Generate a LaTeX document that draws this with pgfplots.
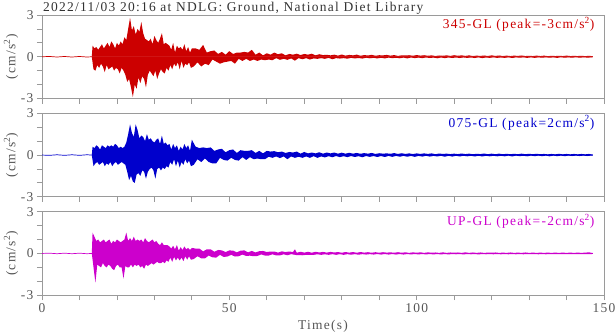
\documentclass[border=0pt]{standalone}
\usepackage{fontspec}
\setmainfont{Liberation Serif}[LetterSpace=9.5]
\usepackage{pgfplots}
\pgfplotsset{compat=1.18}
\definecolor{framec}{HTML}{9A9A9A}
\definecolor{tickc}{HTML}{555555}
\definecolor{titlec}{HTML}{333333}
\definecolor{c345}{HTML}{CC0000}
\definecolor{c075}{HTML}{0000CC}
\definecolor{cup}{HTML}{CC00CC}

\pgfplotsset{
  seis/.style={
    scale only axis, width=562bp, height=83.5bp, anchor=north west,
    xmin=0, xmax=150, ymin=-3, ymax=3,
    axis line style={framec, line width=0.8bp},
    tick style={framec, line width=0.8bp},
    tick align=outside, major tick length=5bp, tick pos=left,
    xtick={0,10,...,150}, xticklabels={},
    ytick={-3,-2,-1,0,1,2,3}, yticklabels={-3,,,0,,,3},
    ticklabel style={text=tickc, font=\fontsize{13.5}{15}\selectfont},
    ylabel={(cm/s\textsuperscript{2})},
    every axis y label/.style={at={(axis description cs:0,0.5)}, xshift=-31bp,
      rotate=90, anchor=center, text=tickc, font=\fontsize{13.5}{15}\selectfont},
  },
  env/.style={draw=#1, line width=0.4bp, line join=bevel, mark=none},
  area/.style={fill=#1, draw=none, mark=none},
  pre/.style={draw=#1, line width=0.7bp, mark=none},
}
\tikzset{lab/.style={anchor=base east, font=\fontsize{13.5}{15}\selectfont}}

% upper and lower envelopes of each trace
\pgfplotstableread{
t a
13.3 0.03
13.5 0.8
14 0.6
14.5 0.7
15 0.5
15.5 0.7
16 0.9
16.5 0.6
17 0.8
17.5 1.0
18 0.7
18.5 1.1
19 0.9
19.5 0.6
20 1.0
20.5 0.8
21 1.1
21.5 0.9
22 1.4
22.5 1.2
23 2.0
23.5 2.8
24 1.9
24.5 2.2
25 1.6
25.5 2.0
26 1.8
26.5 2.5
27 1.7
27.5 1.3
28 1.2
28.5 1.1
29 1.3
29.5 0.9
30 1.5
30.5 1.2
31 1.0
31.5 1.3
32 1.7
32.5 0.9
33 1.0
33.5 0.9
34 0.8
34.5 0.5
35 1.0
35.5 0.3
36 0.8
36.5 0.6
37 0.7
37.5 0.5
38 0.9
38.5 0.4
39 0.7
39.5 0.3
40 0.6
41 0.6
42 0.5
43 0.85
44 0.3
45 0.4
46 0.45
47 0.2
48 0.35
49 0.15
50 0.4
51 0.2
52 0.3
53 0.3
54 0.35
55 0.3
56 0.5
57 0.15
58 0.3
59 0.1
60 0.25
61 0.15
62 0.3
63 0.18
64 0.25
65 0.1
66 0.2
67 0.15
68 0.22
69 0.12
70 0.2
71 0.15
72 0.22
73 0.1
74 0.18
75 0.12
76 0.14
77 0.1
78 0.15
79 0.08
80 0.16
81 0.08
82 0.13
83 0.1
84 0.15
85 0.07
86 0.12
87 0.09
88 0.14
89 0.07
90 0.11
91 0.1
92 0.13
93 0.08
94 0.12
95 0.06
96 0.1
97 0.09
98 0.11
99 0.07
100 0.12
101 0.08
102 0.11
103 0.07
104 0.1
105 0.05
106 0.09
107 0.07
108 0.1
109 0.06
110 0.11
111 0.07
112 0.1
113 0.06
114 0.1
115 0.05
116 0.08
117 0.06
118 0.09
119 0.05
120 0.1
121 0.06
122 0.09
123 0.05
124 0.08
125 0.05
126 0.08
127 0.06
128 0.09
129 0.05
130 0.07
131 0.05
132 0.08
133 0.05
134 0.08
135 0.04
136 0.07
137 0.05
138 0.07
139 0.05
140 0.08
141 0.05
142 0.06
143 0.05
144 0.07
145 0.04
146 0.07
147 0.03
}\upA

\begin{document}
\begin{tikzpicture}
\useasboundingbox (0,0) rectangle (616bp,334bp);
\node[anchor=base west, text=titlec, font=\fontsize{13.5}{15}\selectfont, inner sep=0pt] at (43bp,322bp) {2022/11/03 20:16 at NDLG: Ground, National Diet Library};

% ---------------- 345-GL ----------------
\begin{axis}[seis, at={(42bp,319bp)}]
\addplot[area=c345] table[x=t, y=a] {\upA} \closedcycle;
\addplot[area=c345] coordinates {
(13.3,-0.03) (13.75,-0.9) (14.25,-1.0) (14.75,-0.6) (15.25,-0.8) (15.75,-0.5) (16.25,-0.7) (16.75,-1.1) (17.25,-0.6) (17.75,-0.9) (18.25,-0.8)
(18.75,-0.7) (19.25,-1.0) (19.75,-0.8) (20.25,-0.9) (20.75,-1.2) (21.25,-0.8) (21.75,-1.0) (22.25,-1.3) (22.75,-1.8) (23.25,-1.6) (23.75,-2.2)
(24.25,-2.9) (24.75,-2.0) (25.25,-2.3) (25.75,-1.5) (26.25,-1.9) (26.75,-1.4) (27.25,-1.6) (27.75,-2.2) (28.25,-1.3) (28.75,-1.0) (29.25,-1.2)
(29.75,-1.4) (30.25,-1.0) (30.75,-1.6) (31.25,-1.2) (31.75,-0.9) (32.25,-1.1) (32.75,-1.2) (33.25,-0.8) (33.75,-1.0) (34.25,-0.6) (34.75,-0.9)
(35.25,-0.5) (35.75,-0.7) (36.25,-0.4) (36.75,-0.9) (37.25,-0.3) (37.75,-0.8) (38.25,-0.5) (38.75,-0.6) (39.25,-0.4) (39.75,-0.8)
(40.5,-0.7) (41.5,-0.4) (42.5,-0.7) (43.5,-0.5) (44.5,-0.6) (45.5,-0.2) (46.5,-0.35) (47.5,-0.5) (48.5,-0.4) (49.5,-0.35) (50.5,-0.3)
(51.5,-0.5) (52.5,-0.15) (53.5,-0.3) (54.5,-0.15) (55.5,-0.3) (56.5,-0.2) (57.5,-0.3) (58.5,-0.2) (59.5,-0.25) (60.5,-0.2) (61.5,-0.25)
(62.5,-0.1) (63.5,-0.22) (64.5,-0.15) (65.5,-0.22) (66.5,-0.12) (67.5,-0.28) (68.5,-0.1) (69.5,-0.18) (70.5,-0.1) (71.5,-0.2) (72.5,-0.12)
(73.5,-0.15) (74.5,-0.1) (75.5,-0.15) (76.5,-0.08) (77.5,-0.18) (78.5,-0.1) (79.5,-0.13) (80.5,-0.1) (81.5,-0.14) (82.5,-0.08) (83.5,-0.12)
(84.5,-0.09) (85.5,-0.13) (86.5,-0.07) (87.5,-0.11) (88.5,-0.08) (89.5,-0.12) (90.5,-0.07) (91.5,-0.12) (92.5,-0.06) (93.5,-0.1) (94.5,-0.07)
(95.5,-0.11) (96.5,-0.06) (97.5,-0.12) (98.5,-0.05) (99.5,-0.1) (100.5,-0.06) (101.5,-0.1) (102.5,-0.05) (103.5,-0.09) (104.5,-0.06)
(105.5,-0.11) (106.5,-0.05) (107.5,-0.1) (108.5,-0.05) (109.5,-0.09) (110.5,-0.05) (111.5,-0.09) (112.5,-0.05) (113.5,-0.08) (114.5,-0.05)
(115.5,-0.09) (116.5,-0.04) (117.5,-0.1) (118.5,-0.05) (119.5,-0.08) (120.5,-0.04) (121.5,-0.08) (122.5,-0.05) (123.5,-0.08) (124.5,-0.04)
(125.5,-0.09) (126.5,-0.04) (127.5,-0.07) (128.5,-0.04) (129.5,-0.08) (130.5,-0.04) (131.5,-0.08) (132.5,-0.04) (133.5,-0.07) (134.5,-0.04)
(135.5,-0.07) (136.5,-0.04) (137.5,-0.08) (138.5,-0.03) (139.5,-0.07) (140.5,-0.04) (141.5,-0.07) (142.5,-0.03) (143.5,-0.07) (144.5,-0.04)
(145.5,-0.06) (146.5,-0.05) (147,-0.03)
} \closedcycle;
\addplot[pre=c345] coordinates {(0,0) (2,0.02) (4,-0.02) (6,0.02) (8,-0.02) (10,0.02) (12,-0.02) (13.3,0) (147,0)};
\node[lab, text=c345] at (rel axis cs:0.989,0.835) {345-GL (peak=-3cm/s\textsuperscript{2})};
\end{axis}

% ---------------- 075-GL ----------------
\begin{axis}[seis, at={(42bp,220.7bp)}]
\addplot[area=c075] coordinates {
(13.3,0.03) (13.5,0.6) (14,0.5) (14.5,0.7) (15,0.6) (15.5,0.4) (16,0.7) (16.5,0.6) (17,0.5) (17.5,0.7) (18,0.6) (18.5,0.7) (19,0.6) (19.5,0.8)
(20,0.7) (20.5,0.5) (21,0.6) (21.5,0.5) (22,0.6) (22.5,0.9) (23,1.5) (23.5,2.2) (24,1.6) (24.5,1.3) (25,2.2) (25.5,1.8) (26,1.2) (26.5,1.4)
(27,1.3) (27.5,1.0) (28,1.5) (28.5,1.1) (29,1.2) (29.5,1.0) (30,0.9) (30.5,1.1) (31,1.2) (31.5,0.8) (32,1.4) (32.5,0.8) (33,0.9) (33.5,0.7)
(34,0.8) (34.5,0.4) (35,0.8) (35.5,0.5) (36,0.7) (36.5,0.3) (37,0.6) (37.5,0.4) (38,0.8) (38.5,0.5) (39,0.7) (39.5,0.3) (40,1.1)
(41,0.6) (42,0.5) (43,0.55) (44,0.5) (45,0.55) (46,0.3) (47,0.4) (48,0.45) (49,0.2) (50,0.35) (51,0.4) (52,0.15) (53,0.35) (54,0.3)
(55,0.3) (56,0.35) (57,0.15) (58,0.3) (59,0.12) (60,0.3) (61,0.25) (62,0.28) (63,0.2) (64,0.25) (65,0.15) (66,0.22) (67,0.18) (68,0.25)
(69,0.1) (70,0.22) (71,0.12) (72,0.18) (73,0.12) (74,0.2) (75,0.1) (76,0.18) (77,0.12) (78,0.18) (79,0.1) (80,0.17) (81,0.1) (82,0.16)
(83,0.1) (84,0.15) (85,0.09) (86,0.14) (87,0.1) (88,0.15) (89,0.08) (90,0.13) (91,0.1) (92,0.12) (93,0.09) (94,0.14) (95,0.08) (96,0.13)
(97,0.08) (98,0.12) (99,0.07) (100,0.12) (101,0.08) (102,0.12) (103,0.08) (104,0.12) (105,0.06) (106,0.11) (107,0.08) (108,0.1) (109,0.07)
(110,0.1) (111,0.07) (112,0.11) (113,0.07) (114,0.1) (115,0.06) (116,0.09) (117,0.07) (118,0.11) (119,0.06) (120,0.1) (121,0.06) (122,0.1)
(123,0.06) (124,0.09) (125,0.06) (126,0.09) (127,0.06) (128,0.1) (129,0.06) (130,0.09) (131,0.06) (132,0.09) (133,0.06) (134,0.08)
(135,0.05) (136,0.08) (137,0.05) (138,0.09) (139,0.05) (140,0.08) (141,0.05) (142,0.08) (143,0.05) (144,0.08) (145,0.05) (146,0.08) (147,0.03)
} \closedcycle;
\addplot[area=c075] coordinates {
(13.3,-0.03) (13.75,-0.8) (14.25,-0.6) (14.75,-0.5) (15.25,-0.7) (15.75,-0.6) (16.25,-0.5) (16.75,-0.8) (17.25,-0.6) (17.75,-0.7) (18.25,-0.5)
(18.75,-0.8) (19.25,-0.6) (19.75,-0.5) (20.25,-0.7) (20.75,-0.6) (21.25,-0.5) (21.75,-0.6) (22.25,-0.7) (22.75,-1.2) (23.25,-1.8) (23.75,-1.5)
(24.25,-1.9) (24.75,-2.0) (25.25,-1.4) (25.75,-1.3) (26.25,-1.5) (26.75,-1.1) (27.25,-1.2) (27.75,-1.7) (28.25,-1.2) (28.75,-1.0) (29.25,-0.9)
(29.75,-1.1) (30.25,-1.7) (30.75,-1.0) (31.25,-0.9) (31.75,-1.1) (32.25,-0.9) (32.75,-1.0) (33.25,-0.8) (33.75,-0.9) (34.25,-0.5) (34.75,-0.7)
(35.25,-0.3) (35.75,-0.8) (36.25,-0.4) (36.75,-0.9) (37.25,-0.5) (37.75,-0.7) (38.25,-0.3) (38.75,-0.6) (39.25,-0.4) (39.75,-0.8)
(40.5,-0.7) (41.5,-0.3) (42.5,-0.5) (43.5,-0.25) (44.5,-0.5) (45.5,-0.6) (46.5,-0.6) (47.5,-0.2) (48.5,-0.35) (49.5,-0.4) (50.5,-0.2)
(51.5,-0.35) (52.5,-0.4) (53.5,-0.15) (54.5,-0.35) (55.5,-0.15) (56.5,-0.3) (57.5,-0.25) (58.5,-0.3) (59.5,-0.3) (60.5,-0.12) (61.5,-0.2)
(62.5,-0.1) (63.5,-0.22) (64.5,-0.1) (65.5,-0.3) (66.5,-0.1) (67.5,-0.2) (68.5,-0.12) (69.5,-0.2) (70.5,-0.1) (71.5,-0.2) (72.5,-0.08)
(73.5,-0.2) (74.5,-0.1) (75.5,-0.17) (76.5,-0.08) (77.5,-0.16) (78.5,-0.07) (79.5,-0.15) (80.5,-0.08) (81.5,-0.15) (82.5,-0.07) (83.5,-0.14)
(84.5,-0.08) (85.5,-0.16) (86.5,-0.07) (87.5,-0.13) (88.5,-0.07) (89.5,-0.14) (90.5,-0.07) (91.5,-0.14) (92.5,-0.06) (93.5,-0.13) (94.5,-0.06)
(95.5,-0.12) (96.5,-0.06) (97.5,-0.12) (98.5,-0.06) (99.5,-0.13) (100.5,-0.06) (101.5,-0.11) (102.5,-0.05) (103.5,-0.11) (104.5,-0.06)
(105.5,-0.1) (106.5,-0.05) (107.5,-0.12) (108.5,-0.05) (109.5,-0.11) (110.5,-0.05) (111.5,-0.1) (112.5,-0.05) (113.5,-0.09) (114.5,-0.05)
(115.5,-0.1) (116.5,-0.05) (117.5,-0.1) (118.5,-0.05) (119.5,-0.09) (120.5,-0.05) (121.5,-0.09) (122.5,-0.05) (123.5,-0.09) (124.5,-0.04)
(125.5,-0.1) (126.5,-0.04) (127.5,-0.08) (128.5,-0.05) (129.5,-0.09) (130.5,-0.04) (131.5,-0.08) (132.5,-0.04) (133.5,-0.08) (134.5,-0.04)
(135.5,-0.09) (136.5,-0.04) (137.5,-0.08) (138.5,-0.04) (139.5,-0.08) (140.5,-0.04) (141.5,-0.07) (142.5,-0.04) (143.5,-0.07) (144.5,-0.04)
(145.5,-0.07) (146.5,-0.04) (147,-0.03)
} \closedcycle;
\addplot[pre=c075] coordinates {(0,0) (2,-0.02) (4,0.02) (6,-0.02) (8,0.02) (10,-0.02) (12,0.02) (13.3,0) (147,0)};
\node[lab, text=c075] at (rel axis cs:0.989,0.835) {075-GL (peak=2cm/s\textsuperscript{2})};
\end{axis}

% ---------------- UP-GL ----------------
\begin{axis}[seis, at={(42bp,122.3bp)},
  xticklabels={0,,,,,50,,,,,100,,,,,150},
  xlabel={Time(s)},
  every axis x label/.style={at={(axis description cs:0.5,0)}, anchor=base,
    yshift=-34bp, text=tickc, font=\fontsize{13.5}{15}\selectfont}]
\addplot[area=cup] coordinates {
(13.3,0.03) (13.5,1.5) (14,1.2) (14.5,0.9) (15,1.0) (15.5,0.8) (16,0.9) (16.5,1.0) (17,0.8) (17.5,0.9) (18,1.0) (18.5,0.7) (19,0.9) (19.5,0.8)
(20,1.0) (20.5,0.9) (21,0.8) (21.5,0.9) (22,1.0) (22.5,1.5) (23,0.9) (23.5,1.1) (24,0.9) (24.5,1.2) (25,0.9) (25.5,1.0) (26,0.9) (26.5,1.0)
(27,0.8) (27.5,1.1) (28,0.9) (28.5,0.8) (29,0.9) (29.5,1.0) (30,0.8) (30.5,0.9) (31,0.7) (31.5,0.6) (32,0.8) (32.5,0.6) (33,0.6) (33.5,0.6)
(34,0.5) (34.5,0.35) (35,0.55) (35.5,0.3) (36,0.6) (36.5,0.2) (37,0.45) (37.5,0.25) (38,0.5) (38.5,0.3) (39,0.4) (39.5,0.25) (40,0.4)
(41,0.35) (42,0.35) (43,0.15) (44,0.3) (45,0.3) (46,0.12) (47,0.25) (48,0.22) (49,0.1) (50,0.22) (51,0.2) (52,0.08) (53,0.2) (54,0.22)
(55,0.08) (56,0.18) (57,0.07) (58,0.16) (59,0.18) (60,0.1) (61,0.14) (62,0.14) (63,0.06) (64,0.15) (65,0.1) (66,0.14) (67,0.1) (67.5,0.3)
(68,0.05) (69,0.12) (70,0.06) (71,0.12) (72,0.05) (73,0.12) (74,0.07) (75,0.11) (76,0.06) (77,0.11) (78,0.07) (79,0.1) (80,0.05) (81,0.1)
(82,0.06) (83,0.1) (84,0.05) (85,0.1) (86,0.06) (87,0.09) (88,0.05) (89,0.09) (90,0.05) (91,0.09) (92,0.06) (93,0.08) (94,0.05) (95,0.09)
(96,0.05) (97,0.08) (98,0.04) (99,0.08) (100,0.05) (101,0.08) (102,0.04) (103,0.08) (104,0.05) (105,0.07) (106,0.04) (107,0.08) (108,0.04)
(109,0.07) (110,0.05) (111,0.07) (112,0.04) (113,0.08) (114,0.04) (115,0.07) (116,0.04) (117,0.07) (118,0.04) (119,0.06) (120,0.05)
(121,0.07) (122,0.04) (123,0.06) (124,0.04) (125,0.07) (126,0.04) (127,0.06) (128,0.04) (129,0.07) (130,0.04) (131,0.06) (132,0.04)
(133,0.06) (134,0.04) (135,0.06) (136,0.04) (137,0.06) (138,0.04) (139,0.06) (140,0.04) (141,0.06) (142,0.04) (143,0.06) (144,0.04)
(145,0.06) (146,0.08) (147,0.03)
} \closedcycle;
\addplot[area=cup] coordinates {
(13.3,-0.03) (13.75,-1.0) (14.25,-2.1) (14.75,-0.8) (15.25,-0.9) (15.75,-1.0) (16.25,-0.7) (16.75,-0.9) (17.25,-1.0) (17.75,-0.8) (18.25,-0.9)
(18.75,-1.1) (19.25,-1.2) (19.75,-0.9) (20.25,-0.8) (20.75,-1.0) (21.25,-1.0) (21.75,-1.8) (22.25,-0.9) (22.75,-1.0) (23.25,-1.0) (23.75,-0.8)
(24.25,-1.0) (24.75,-0.8) (25.25,-0.9) (25.75,-0.8) (26.25,-1.0) (26.75,-0.9) (27.25,-1.1) (27.75,-0.8) (28.25,-0.9) (28.75,-0.8) (29.25,-0.7)
(29.75,-0.8) (30.25,-0.7) (30.75,-0.6) (31.25,-0.7) (31.75,-0.7) (32.25,-0.6) (32.75,-0.7) (33.25,-0.5) (33.75,-0.6) (34.25,-0.3) (34.75,-0.6)
(35.25,-0.25) (35.75,-0.5) (36.25,-0.3) (36.75,-0.5) (37.25,-0.3) (37.75,-0.55) (38.25,-0.2) (38.75,-0.45) (39.25,-0.2) (39.75,-0.45)
(40.5,-0.4) (41.5,-0.2) (42.5,-0.35) (43.5,-0.35) (44.5,-0.15) (45.5,-0.28) (46.5,-0.3) (47.5,-0.1) (48.5,-0.25) (49.5,-0.22) (50.5,-0.1)
(51.5,-0.22) (52.5,-0.2) (53.5,-0.08) (54.5,-0.18) (55.5,-0.16) (56.5,-0.2) (57.5,-0.18) (58.5,-0.07) (59.5,-0.15) (60.5,-0.15) (61.5,-0.06)
(62.5,-0.14) (63.5,-0.14) (64.5,-0.06) (65.5,-0.13) (66.5,-0.05) (68,-0.12) (69.5,-0.13) (70.5,-0.1) (71.5,-0.11) (72.5,-0.1) (73.5,-0.06)
(74.5,-0.1) (75.5,-0.06) (76.5,-0.1) (77.5,-0.05) (78.5,-0.1) (79.5,-0.05) (80.5,-0.1) (81.5,-0.05) (82.5,-0.09) (83.5,-0.05) (84.5,-0.09)
(85.5,-0.05) (86.5,-0.08) (87.5,-0.05) (88.5,-0.08) (89.5,-0.04) (90.5,-0.08) (91.5,-0.04) (92.5,-0.08) (93.5,-0.04) (94.5,-0.08) (95.5,-0.04)
(96.5,-0.08) (97.5,-0.04) (98.5,-0.07) (99.5,-0.04) (100.5,-0.07) (101.5,-0.04) (102.5,-0.07) (103.5,-0.04) (104.5,-0.07) (105.5,-0.04)
(106.5,-0.07) (107.5,-0.04) (108.5,-0.07) (109.5,-0.04) (110.5,-0.06) (111.5,-0.04) (112.5,-0.07) (113.5,-0.04) (114.5,-0.06) (115.5,-0.04)
(116.5,-0.07) (117.5,-0.04) (118.5,-0.06) (119.5,-0.04) (120.5,-0.06) (121.5,-0.04) (122.5,-0.06) (123.5,-0.04) (124.5,-0.06) (125.5,-0.04)
(126.5,-0.06) (127.5,-0.04) (128.5,-0.06) (129.5,-0.04) (130.5,-0.05) (131.5,-0.04) (132.5,-0.06) (133.5,-0.04) (134.5,-0.06) (135.5,-0.04)
(136.5,-0.05) (137.5,-0.04) (138.5,-0.05) (139.5,-0.04) (140.5,-0.05) (141.5,-0.04) (142.5,-0.05) (143.5,-0.04) (144.5,-0.05) (145.5,-0.04)
(146.5,-0.05) (147,-0.03)
} \closedcycle;
\addplot[pre=cup] coordinates {(0,0) (2,0.02) (4,-0.02) (6,0.02) (8,-0.02) (10,0.02) (12,-0.02) (13.3,0) (147,0)};
\node[lab, text=cup] at (rel axis cs:0.989,0.835) {UP-GL (peak=-2cm/s\textsuperscript{2})};
\end{axis}
\end{tikzpicture}
\end{document}
